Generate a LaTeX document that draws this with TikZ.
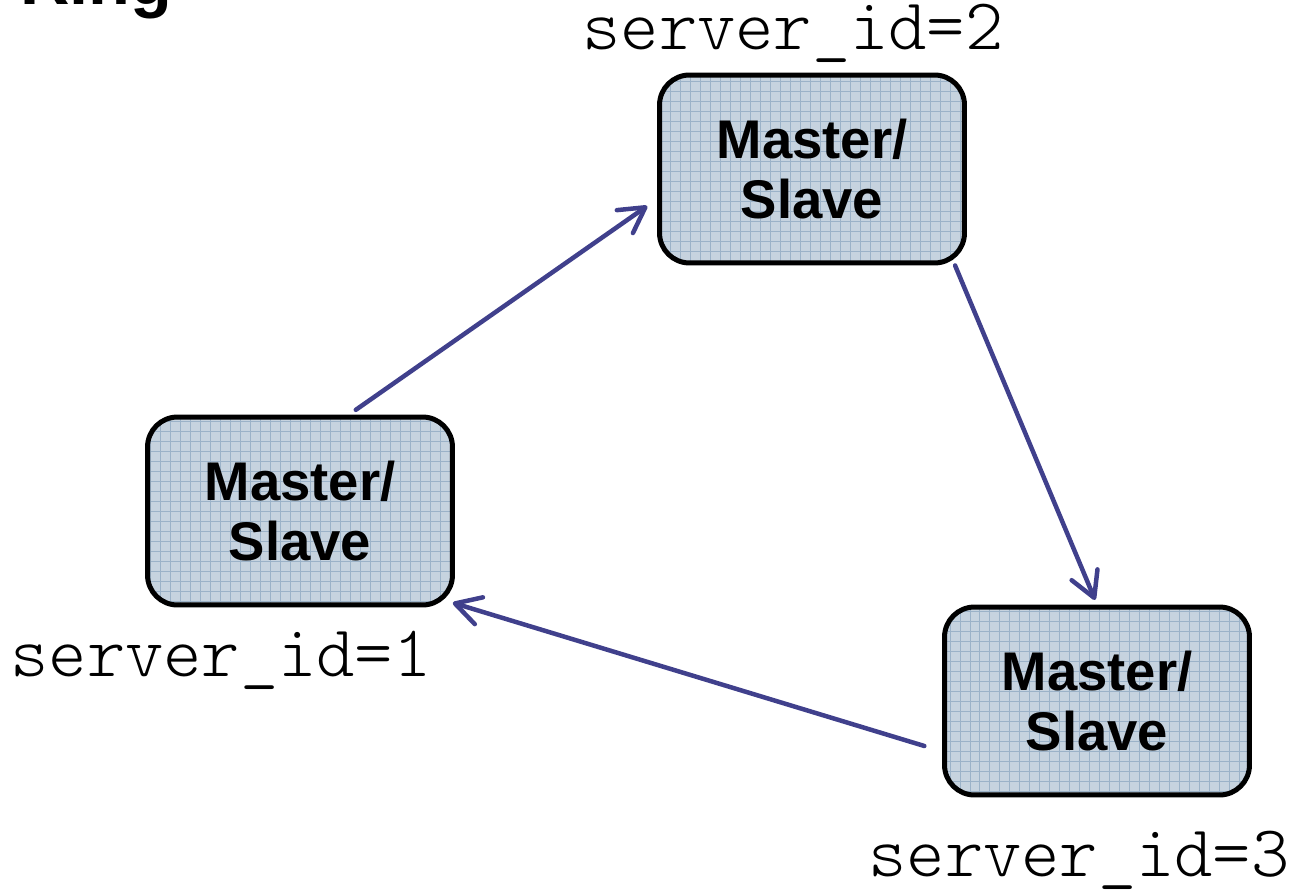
\documentclass[tikz,border=0pt]{standalone}
\usepackage{fontspec}
\setmainfont{Liberation Sans}
\newfontfamily\idfont{Latin Modern Mono Light}
\usetikzlibrary{arrows.meta,patterns.meta}
\definecolor{boxfill}{RGB}{198,211,223}
\definecolor{gridcol}{RGB}{155,178,200}
\definecolor{ringblue}{RGB}{64,64,140}
\tikzset{
  ms/.style={draw=black, line width=0.1cm, rounded corners=0.6cm,
    preaction={fill=boxfill},
    pattern={Hatch[angle=0,distance=0.2cm,line width=0.35pt]}, pattern color=gridcol,
    minimum width=6.1cm, minimum height=3.76cm, align=center,
    font=\fontsize{31}{34}\selectfont\bfseries},
  sid/.style={inner sep=0pt, anchor=base, font=\idfont\fontsize{41.5}{44}\selectfont},
  link/.style={->, draw=ringblue, line width=0.09cm, line cap=round}
}
\begin{document}
\begin{tikzpicture}[x=0.02cm, y=-0.02cm, >={Straight Barb[length=5mm,width=5.6mm,round]}]
      \useasboundingbox (0,0) rectangle (1290,891);
      \node[inner sep=0pt, anchor=base west, font=\fontsize{39}{44}\selectfont\bfseries] (title) at (20,5) {Ring};
      \node[ms] (M1) at (300,511) {Master/\\Slave};
      \node[ms] (M2) at (812,169) {Master/\\Slave};
      \node[ms] (M3) at (1097,701) {Master/\\Slave};
      \node[sid] (id1) at (221,676) {server\_id=1};
      \node[sid] (id2) at (793,50) {server\_id=2};
      \node[sid] (id3) at (1079,876) {server\_id=3};
      \path (M1.64) edge[link, shorten <=0.24cm, shorten >=0.24cm] (M2.191);
      \path (M2.-34) edge[link, shorten >=0.1cm] (M3.north);
      \path (M3.198) edge[link, shorten <=0.37cm] (M1.-31);
    \end{tikzpicture}
\end{document}
